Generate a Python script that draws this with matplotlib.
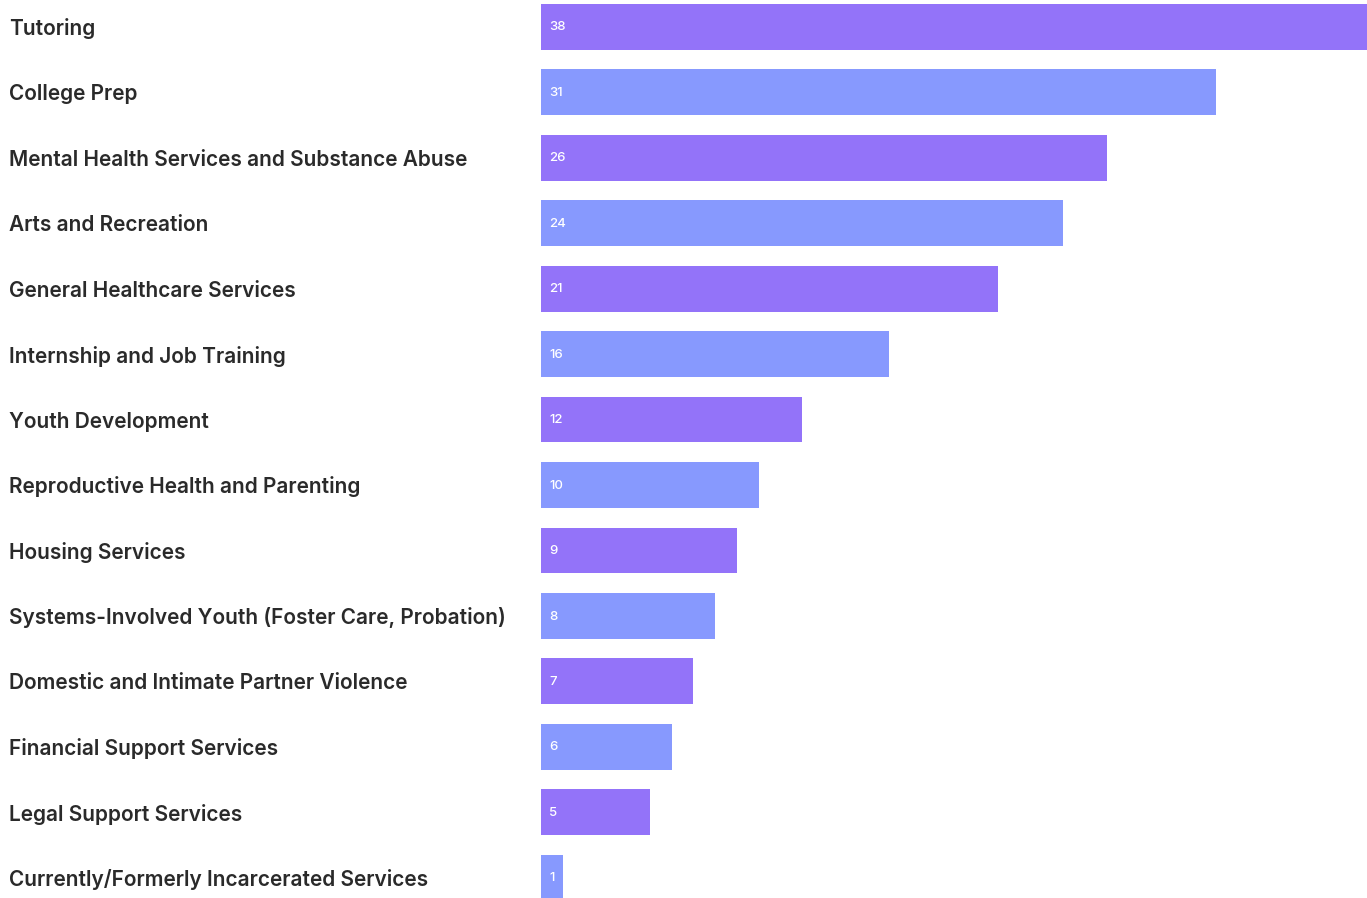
import matplotlib
matplotlib.use('Agg')
import matplotlib.pyplot as plt

categories = [
    'Tutoring',
    'College Prep',
    'Mental Health Services and Substance Abuse',
    'Arts and Recreation',
    'General Healthcare Services',
    'Internship and Job Training',
    'Youth Development',
    'Reproductive Health and Parenting',
    'Housing Services',
    'Systems-Involved Youth (Foster Care, Probation)',
    'Domestic and Intimate Partner Violence',
    'Financial Support Services',
    'Legal Support Services',
    'Currently/Formerly Incarcerated Services',
]
counts = [38, 31, 26, 24, 21, 16, 12, 10, 9, 8, 7, 6, 5, 1]
bar_colors = ['#9373f9', '#8799fe']

W, H = 1367, 898
fig = plt.figure(figsize=(W / 100, H / 100), dpi=100)
ax = fig.add_axes([541 / W, 0, 826 / W, 1])

ypos = list(range(len(categories)))
cols = [bar_colors[i % 2] for i in ypos]
ax.barh(ypos, counts, height=0.7, color=cols)
ax.set_xlim(0, 37.95)
ax.set_ylim(13.31, -0.41)
ax.axis('off')

for y, v, name in zip(ypos, counts, categories):
    ax.text(0.38, y + 0.01, str(v), color='white', fontsize=9.5, va='center', ha='left',
            family='Inter', fontweight='medium')
    ax.text(-532 / 826, y + 0.03, name, transform=ax.get_yaxis_transform(),
            fontsize=15, fontweight='semibold', color='#2a2a2a', va='center',
            ha='left', family='Inter')

fig.savefig('out.png', dpi=100)
